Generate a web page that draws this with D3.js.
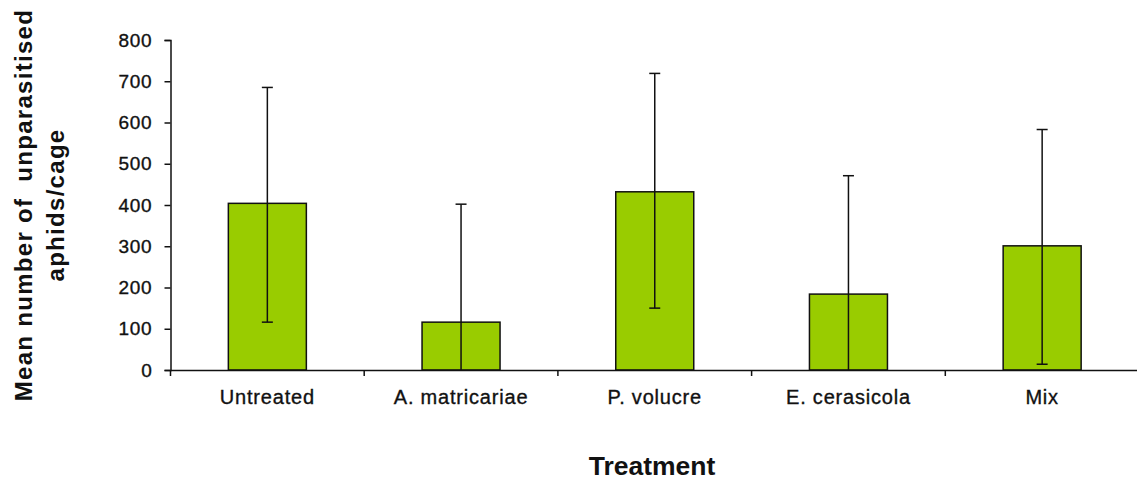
<!DOCTYPE html>
<html>
<head>
<meta charset="utf-8">
<script src="https://cdn.jsdelivr.net/npm/d3@7"></script>
<style>
  body { margin: 0; background: #fff; }
  text { font-family: "Liberation Sans", Arial, sans-serif; fill: #111; }
</style>
</head>
<body>
<div id="app"></div>
<script>
// data
const categories = ["Untreated", "A. matricariae", "P. volucre", "E. cerasicola", "Mix"];
const means = [404, 116, 432, 184, 301];
const errUpper = [685, 402, 719, 471, 583];
const errLower = [116, 0, 150, 0, 14];   // 0 = bar clipped at the axis
const yTicks = [0, 100, 200, 300, 400, 500, 600, 700, 800];

const w = 1137, h = 481;
const plotL = 170.5, plotR = 1139, plotT = 40, plotB = 370;

const svg = d3.select("#app")
  .append("svg")
  .attr("width", w)
  .attr("height", h);

const xScale = d3.scaleBand()
  .domain(categories)
  .range([plotL, plotR])
  .paddingInner(0)
  .paddingOuter(0);

const yScale = d3.scaleLinear()
  .domain([0, 800])
  .range([plotB, plotT]);

const barW = 78;
const data = categories.map((c, i) => ({
  cat: c, mean: means[i], hi: errUpper[i], lo: errLower[i]
}));

// bars
svg.selectAll(".bar")
  .data(data)
  .enter()
  .append("rect")
  .attr("class", "bar")
  .attr("x", d => xScale(d.cat) + xScale.bandwidth() / 2 - barW / 2)
  .attr("y", d => yScale(d.mean))
  .attr("width", barW)
  .attr("height", d => yScale(0) - yScale(d.mean))
  .attr("fill", "#99cc00")
  .attr("stroke", "#111")
  .attr("stroke-width", 1.5);

// error bars
const cx = d => xScale(d.cat) + xScale.bandwidth() / 2;
const capW = 11;
svg.selectAll(".err")
  .data(data)
  .enter()
  .append("line")
  .attr("x1", cx).attr("x2", cx)
  .attr("y1", d => yScale(d.hi))
  .attr("y2", d => yScale(d.lo))
  .attr("stroke", "#111")
  .attr("stroke-width", 1.5);

svg.selectAll(".capHi")
  .data(data)
  .enter()
  .append("line")
  .attr("x1", d => cx(d) - capW / 2).attr("x2", d => cx(d) + capW / 2)
  .attr("y1", d => yScale(d.hi)).attr("y2", d => yScale(d.hi))
  .attr("stroke", "#111")
  .attr("stroke-width", 1.5);

svg.selectAll(".capLo")
  .data(data.filter(d => d.lo > 0))
  .enter()
  .append("line")
  .attr("x1", d => cx(d) - capW / 2).attr("x2", d => cx(d) + capW / 2)
  .attr("y1", d => yScale(d.lo)).attr("y2", d => yScale(d.lo))
  .attr("stroke", "#111")
  .attr("stroke-width", 1.5);

// axes
const yAxis = d3.axisLeft(yScale)
  .tickValues(yTicks)
  .tickSize(6)
  .tickPadding(12);

const gy = svg.append("g")
  .attr("transform", "translate(" + plotL + ",0)")
  .call(yAxis);
gy.selectAll("text")
  .style("font-size", "19px")
  .style("letter-spacing", "0.8px")
  .attr("fill", "#111")
  .attr("stroke", "#111")
  .attr("stroke-width", 0.35);

const xAxis = d3.axisBottom(xScale)
  .tickSize(0)
  .tickPadding(20);

const gx = svg.append("g")
  .attr("transform", "translate(0," + plotB + ")")
  .call(xAxis);
gx.selectAll("text")
  .style("font-size", "20px")
  .style("letter-spacing", "0.8px")
  .attr("fill", "#111")
  .attr("stroke", "#111")
  .attr("stroke-width", 0.35);

// category boundary ticks below the x axis
gx.selectAll(".sep")
  .data(categories.map(c => xScale(c)))
  .enter()
  .append("line")
  .attr("class", "sep")
  .attr("x1", d => d).attr("x2", d => d)
  .attr("y1", 0).attr("y2", 6);

svg.selectAll(".domain, .tick line, .sep")
  .attr("stroke", "#111")
  .attr("stroke-width", 1.5);

// axis titles
svg.append("text")
  .attr("x", 652)
  .attr("y", 475)
  .style("text-anchor", "middle")
  .style("font-size", "26.5px")
  .style("font-weight", "bold")
  .text("Treatment");

const yTitle = svg.append("text")
  .attr("transform", "translate(0,205) rotate(-90)")
  .style("text-anchor", "middle")
  .style("font-size", "24px")
  .style("font-weight", "bold")
  .style("letter-spacing", "1.3px")
  .style("white-space", "pre");
yTitle.append("tspan").attr("x", 0).attr("y", 32).text("Mean number of  unparasitised");
yTitle.append("tspan").attr("x", 0).attr("y", 64).text("aphids/cage");
</script>
</body>
</html>
